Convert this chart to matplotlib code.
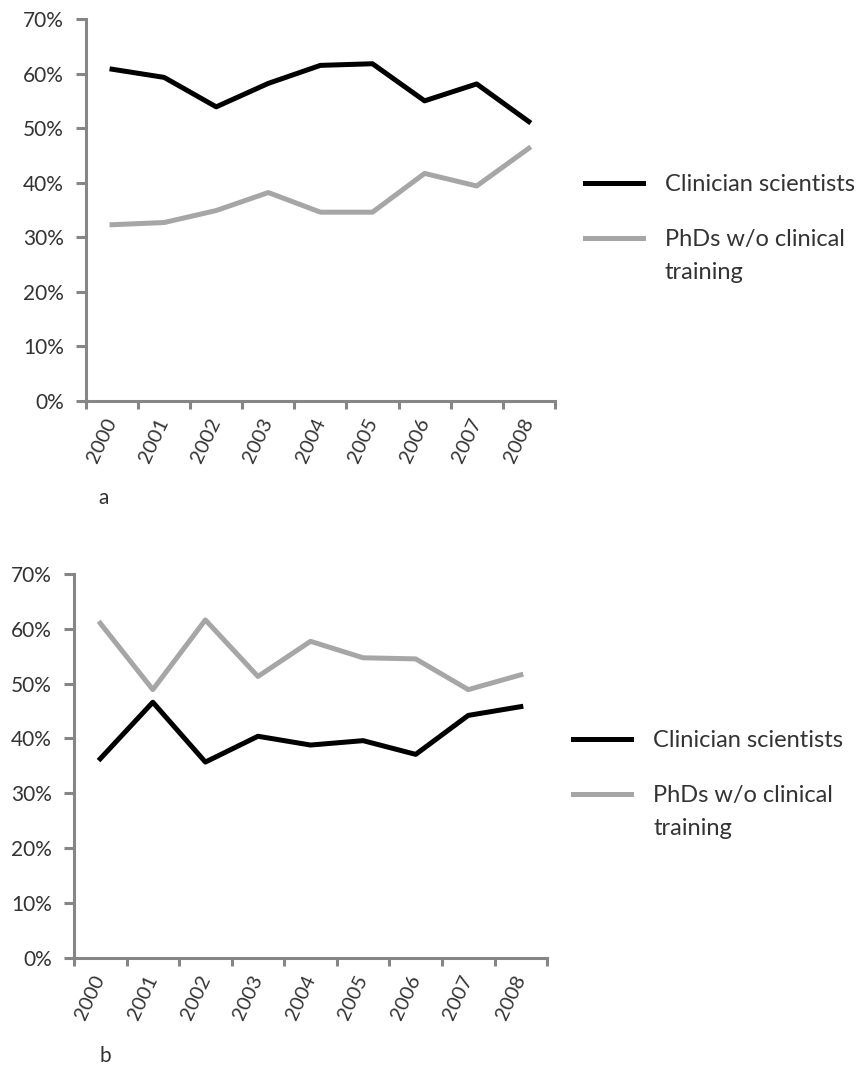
import numpy as np
import matplotlib
matplotlib.use("Agg")
from matplotlib import pyplot as plt
from matplotlib.lines import Line2D
from matplotlib.ticker import FixedLocator, FuncFormatter

years = ["2000", "2001", "2002", "2003", "2004", "2005", "2006", "2007", "2008"]

# panel a
clin_a = [60.8, 59.3, 53.9, 58.2, 61.5, 61.8, 55.0, 58.1, 51.2]
phd_a = [32.3, 32.7, 34.9, 38.2, 34.6, 34.6, 41.7, 39.4, 46.3]

# panel b
clin_b = [36.3, 46.6, 35.7, 40.4, 38.8, 39.6, 37.1, 44.2, 45.8]
phd_b = [61.0, 48.9, 61.6, 51.3, 57.7, 54.7, 54.5, 48.9, 51.6]

plt.rcParams['font.family'] = ['Lato', 'DejaVu Sans']

axis_col = "#868686"
text_col = "#333333"
gray = "#a6a6a6"

fig = plt.figure(figsize=(8.65, 10.67), dpi=100)


def draw_panel(ax, clin, phd, letter, leg_x, train_x, letter_x):
    x = np.arange(len(years))
    ax.plot(x, clin, color="black", lw=3.6)
    ax.plot(x, phd, color=gray, lw=3.6)
    ax.set_xlim(-0.5, len(years) - 0.5)
    ax.set_ylim(0, 70)
    for s in ["top", "right"]:
        ax.spines[s].set_visible(False)
    for s in ["left", "bottom"]:
        ax.spines[s].set_color(axis_col)
        ax.spines[s].set_linewidth(2.2)
    ax.set_yticks(np.arange(0, 71, 10))
    ax.yaxis.set_major_formatter(FuncFormatter(lambda v, p: "%d%%" % v))
    # ticks at category boundaries, labels at centres
    ax.xaxis.set_major_locator(FixedLocator(np.arange(-0.5, len(years), 1.0)))
    ax.xaxis.set_major_formatter(FuncFormatter(lambda v, p: ""))
    ax.xaxis.set_minor_locator(FixedLocator(x))
    ax.set_xticklabels(years, minor=True)
    for t in ax.get_xticklabels(minor=True):
        t.set_rotation(65)
        t.set_rotation_mode("anchor")
        t.set_ha("right")
        t.set_va("center")
    ax.tick_params(axis="x", which="minor", length=0, pad=13, labelsize=14.5, labelcolor=text_col)
    ax.tick_params(axis="x", which="major", length=6, width=2.2, color=axis_col)
    ax.tick_params(axis="y", length=7, width=2.2, color=axis_col, labelsize=15,
                   labelcolor=text_col, pad=9)

    handles = [Line2D([], [], color="black", lw=3.6),
               Line2D([], [], color=gray, lw=3.6)]
    ax.legend(handles, ["Clinician scientists", "PhDs w/o clinical"],
              loc="upper left", bbox_to_anchor=(leg_x, 0.594), frameon=False,
              fontsize=17, handlelength=2.45, handletextpad=0.95,
              labelspacing=1.45, borderaxespad=0, borderpad=0,
              labelcolor=text_col)
    ax.text(train_x, 0.336, "training", transform=ax.transAxes,
            ha="left", va="center", fontsize=17, color=text_col)
    ax.text(letter_x, -0.255, letter, transform=ax.transAxes, fontsize=15,
            color=text_col, ha="center", va="center")


ax1 = fig.add_axes([0.0994, 0.6242, 0.542, 0.358])
draw_panel(ax1, clin_a, phd_a, "a", 1.064, 1.2345, 0.038)

ax2 = fig.add_axes([0.0855, 0.1022, 0.547, 0.36])
draw_panel(ax2, clin_b, phd_b, "b", 1.055, 1.224, 0.066)

fig.savefig("out.png", dpi=100, facecolor="white")
